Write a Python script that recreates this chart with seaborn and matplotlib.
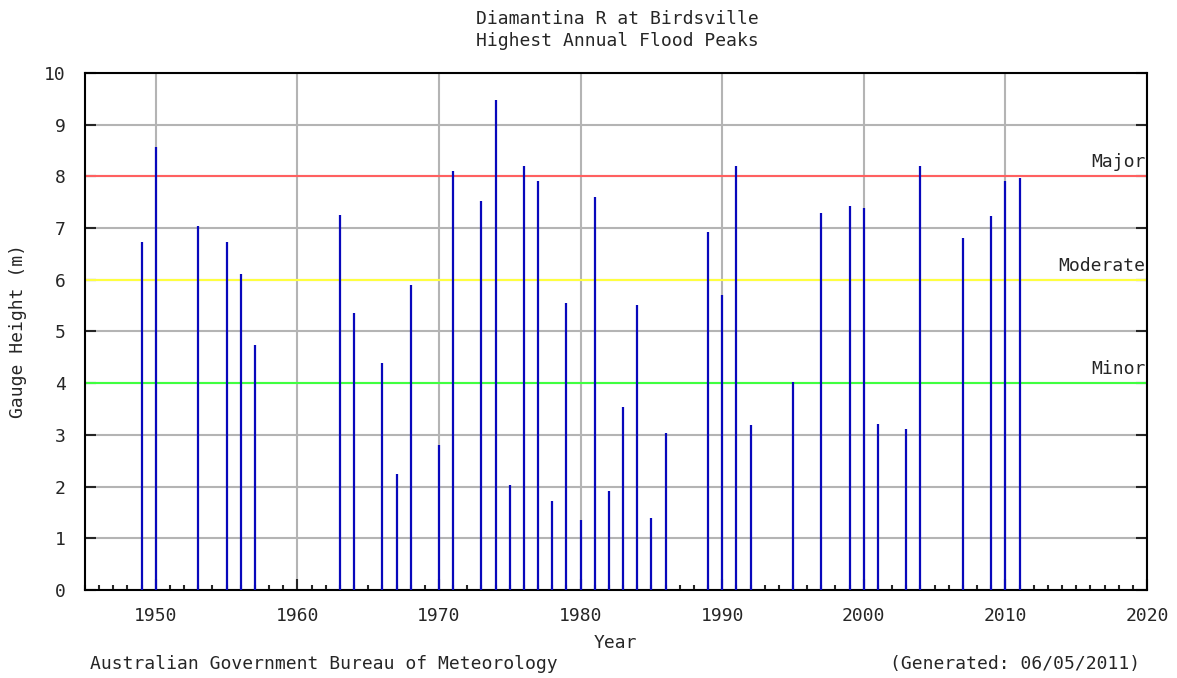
import matplotlib
matplotlib.use("Agg")
import matplotlib.pyplot as plt
from matplotlib.ticker import MultipleLocator
import seaborn as sns

# Plain white style, the gauge chart draws its own grid
sns.set_style("white")
plt.rcParams['font.family'] = ['DejaVu Sans Mono']

# Highest annual flood peak per year (m)
years = [1949, 1950, 1953, 1955, 1956, 1957, 1963, 1964, 1966, 1967, 1968,
         1970, 1971, 1973, 1974, 1975, 1976, 1977, 1978, 1979, 1980, 1981,
         1982, 1983, 1984, 1985, 1986, 1989, 1990, 1991, 1992, 1995, 1997,
         1999, 2000, 2001, 2003, 2004, 2007, 2009, 2010, 2011]
peaks = [6.73, 8.56, 7.04, 6.73, 6.12, 4.74, 7.26, 5.36, 4.40, 2.24, 5.90,
         2.80, 8.10, 7.53, 9.48, 2.04, 8.21, 7.92, 1.73, 5.55, 1.35, 7.61,
         1.92, 3.53, 5.52, 1.39, 3.03, 6.92, 5.70, 8.21, 3.19, 4.02, 7.30,
         7.42, 7.39, 3.22, 3.11, 8.21, 6.81, 7.23, 7.92, 7.96]

# Flood classification levels
level_values = [4, 6, 8]
level_names = ['Minor', 'Moderate', 'Major']
level_colors = ['#40ff40', '#ffff40', '#ff6060']

fs = 13  # one size for all text, like the original pixel font

fig = plt.figure(figsize=(11.77, 6.78), dpi=100)
ax = fig.add_axes([85 / 1177, 88 / 678, 1062 / 1177, 517 / 678])

ax.set_xlim(1945, 2020)
ax.set_ylim(0, 10)
ax.xaxis.set_major_locator(MultipleLocator(10))
ax.xaxis.set_minor_locator(MultipleLocator(1))
ax.yaxis.set_major_locator(MultipleLocator(1))

# Grey grid behind everything
ax.grid(True, which='major', color='#b4b4b4', linewidth=1.5, zorder=0)
ax.set_axisbelow(True)

# Flood level lines and their labels
for val, name, col in zip(level_values, level_names, level_colors):
    ax.axhline(val, color=col, linewidth=1.5, zorder=2)
    ax.text(2019.9, val + 0.1, name, ha='right', va='bottom', fontsize=fs, zorder=4)

# Flood peaks as thin vertical bars
ax.vlines(years, 0, peaks, colors='#0808bc', linewidth=1.6, zorder=3)

# Ticks: inward, on both y sides, minor year ticks on x
ax.tick_params(axis='y', which='major', direction='in', length=8, width=1.5,
               left=True, right=True, pad=14, labelsize=fs)
ax.tick_params(axis='x', which='major', direction='in', length=8, width=1.5,
               bottom=True, top=False, pad=12, labelsize=fs)
ax.tick_params(axis='x', which='minor', direction='in', length=3.5, width=1.5,
               bottom=True, top=False)

for spine in ax.spines.values():
    spine.set_color('black')
    spine.set_linewidth(1.5)

# Titles and footers
fig.text(617 / 1177, 1 - 30 / 678, 'Diamantina R at Birdsville\nHighest Annual Flood Peaks',
         ha='center', va='center', fontsize=fs, linespacing=1.25)
fig.text(615 / 1177, 1 - 643 / 678, 'Year', ha='center', va='center', fontsize=fs)
fig.text(18 / 1177, 1 - 331 / 678, 'Gauge Height (m)', ha='center', va='center',
         rotation=90, fontsize=fs)
fig.text(90 / 1177, 1 - 664 / 678, 'Australian Government Bureau of Meteorology',
         ha='left', va='center', fontsize=fs)
fig.text(1140 / 1177, 1 - 664 / 678, '(Generated: 06/05/2011)',
         ha='right', va='center', fontsize=fs)

fig.savefig('out.png', dpi=100)
